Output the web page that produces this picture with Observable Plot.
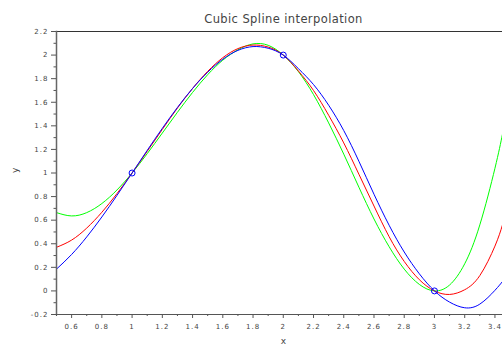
<!DOCTYPE html>
<html><head><meta charset="utf-8">
<script src="https://cdn.jsdelivr.net/npm/d3@7"></script>
<script src="https://cdn.jsdelivr.net/npm/@observablehq/plot@0.6"></script>
<style>
html,body{margin:0;padding:0;background:#fff;overflow:hidden}
</style></head><body><div id="chart"></div>
<script>
const titleText = "Cubic Spline interpolation";
const xLabel = "x";
const yLabel = "y";

const xValues = [0.5,0.6,0.7,0.8,0.9,1.0,1.1,1.2,1.3,1.4,1.5,1.6,1.7,1.8,1.9,2.0,2.1,2.2,2.3,2.4,2.5,2.6,2.7,2.8,2.9,3.0,3.1,3.2,3.3,3.4,3.45];
const greenValues = [0.664,0.636,0.664,0.741,0.856,1.000,1.164,1.339,1.515,1.683,1.834,1.957,2.045,2.095,2.083,2.000,1.860,1.665,1.425,1.160,0.880,0.610,0.375,0.185,0.055,0.000,0.050,0.230,0.560,1.040,1.330];
const redValues = [0.370,0.431,0.533,0.667,0.825,1.000,1.184,1.370,1.551,1.717,1.862,1.978,2.055,2.085,2.068,2.000,1.865,1.700,1.490,1.255,0.990,0.720,0.460,0.250,0.095,0.000,-0.030,0.010,0.130,0.380,0.560];
const blueValues = [0.185,0.309,0.458,0.627,0.810,1.000,1.192,1.379,1.556,1.717,1.855,1.965,2.040,2.072,2.058,2.000,1.885,1.750,1.575,1.360,1.100,0.820,0.557,0.330,0.145,0.000,-0.095,-0.143,-0.112,0.005,0.080];

const knotX = [1, 2, 3];
const knotY = [1, 2, 0];

const xMajorTicks = [0.6,0.8,1,1.2,1.4,1.6,1.8,2,2.2,2.4,2.6,2.8,3,3.2,3.4];
const xMinorTicks = [0.5,0.7,0.9,1.1,1.3,1.5,1.7,1.9,2.1,2.3,2.5,2.7,2.9,3.1,3.3];
const yMajorTicks = [-0.2,0,0.2,0.4,0.6,0.8,1,1.2,1.4,1.6,1.8,2,2.2];
const yMinorTicks = [-0.1,0.1,0.3,0.5,0.7,0.9,1.1,1.3,1.5,1.7,1.9,2.1];

const seriesList = [
  {values: greenValues, color: "#00ff00"},
  {values: redValues, color: "#ff0000"},
  {values: blueValues, color: "#0000ff"}
];
const knots = knotX.map((x, i) => ({x, y: knotY[i]}));
const fmt = d => String(Math.round(d * 10) / 10);

const plot = Plot.plot({
  width: 502,
  height: 349,
  marginTop: 31,
  marginLeft: 56,
  marginBottom: 35,
  marginRight: 0,
  style: "font-family: 'DejaVu Sans', sans-serif; font-size: 7px; color: #444; background: #fff;",
  x: {domain: [0.5, 3.45]},
  y: {domain: [-0.2, 2.2]},
  marks: [
    ...seriesList.map(s => Plot.line(xValues.map((x, i) => ({x, y: s.values[i]})), {
      x: "x", y: "y", stroke: s.color, strokeWidth: 1, curve: "natural", clip: true
    })),
    Plot.dot(knots, {x: "x", y: "y", r: 3, stroke: "#0000ff", strokeWidth: 1, fill: "none"}),
    Plot.frame({anchor: "top", stroke: "#333"}),
    Plot.frame({anchor: "bottom", stroke: "#555"}),
    Plot.frame({anchor: "left", stroke: "#666", strokeWidth: 1.5}),
    Plot.axisY(yMajorTicks, {tickSize: 5, tickPadding: 3, tickFormat: fmt, label: null, stroke: "#555"}),
    Plot.axisY(yMinorTicks, {tickSize: 2.5, text: null, label: null, stroke: "#555"}),
    Plot.axisX(xMajorTicks, {tickSize: 4, tickPadding: 6, tickFormat: fmt, label: null, stroke: "#555"}),
    Plot.axisX(xMinorTicks, {tickSize: 2, text: null, label: null, stroke: "#555"}),
    Plot.text([titleText], {frameAnchor: "top", dy: -17, dx: 4, fontSize: 11.5, fill: "#444"}),
    Plot.text([xLabel], {frameAnchor: "bottom", dy: 29, dx: 4, fontSize: 9, fill: "#444"}),
    Plot.text([yLabel], {frameAnchor: "left", dx: -41, rotate: -90, fontSize: 9, fill: "#444"})
  ]
});
document.getElementById("chart").appendChild(plot);
d3.select(plot).selectAll("text").each(function() {
  const t = this.textContent;
  if (t === titleText) this.style.letterSpacing = "0.4px";
});
d3.select(plot).selectAll('g[aria-label="y-axis tick label"] text, g[aria-label="x-axis tick label"] text').style("letter-spacing", "1px");
</script></body></html>
